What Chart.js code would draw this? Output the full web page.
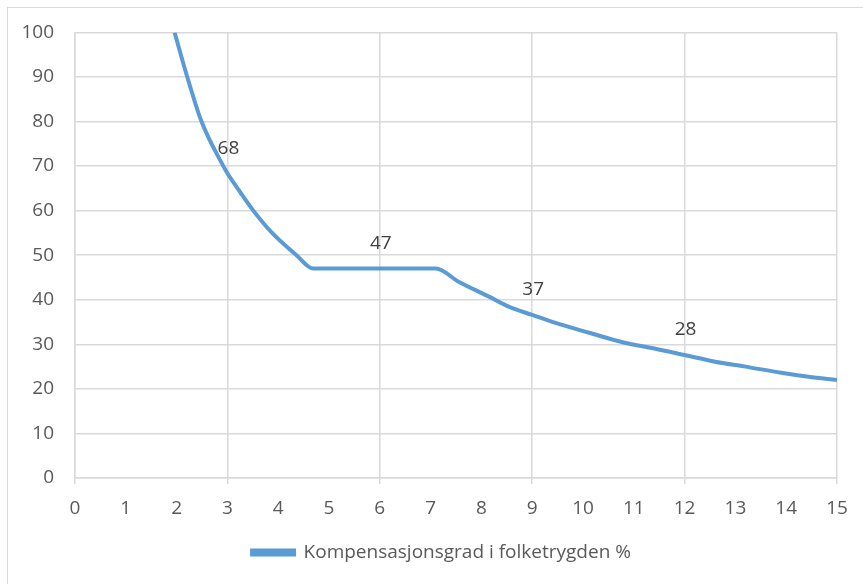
<!DOCTYPE html>
<html>
<head>
<meta charset="utf-8">
<script src="https://cdn.jsdelivr.net/npm/chart.js@4.4.1/dist/chart.umd.min.js"></script>
<style>
  html, body { margin: 0; padding: 0; background: #fff; }
  #wrap { position: relative; width: 863px; height: 584px; overflow: hidden; }
  #frame { position: absolute; left: 7px; top: 7px; width: 900px; height: 620px;
           border: 1.5px solid #d9d9d9; box-sizing: border-box; }
  #myChart { position: absolute; left: 0; top: 0; }
</style>
</head>
<body>
<div id="wrap">
  <div id="frame"></div>
  <canvas id="myChart" width="863" height="584"></canvas>
</div>
<script>
// inntekt (x) and kompensasjonsgrad (y)
const xValues = [1.96, 2.21, 2.49, 2.92, 3, 3.2, 3.51, 3.88, 4.36, 4.69, 6, 7.1, 7.56, 8.15, 8.55, 9, 9.46, 10.12, 10.84, 11.3, 12, 12.6, 13.2, 13.9, 14.44, 15];
const yValues = [100, 90, 80, 70, 68.4, 65, 60, 55, 50, 47, 47, 47, 44, 40.7, 38.4, 36.6, 34.8, 32.6, 30.3, 29.3, 27.6, 26.1, 25, 23.6, 22.7, 22];

// points that carry a data label
const labelX = [3, 6, 9, 12];
const labelText = ["68", "47", "37", "28"];

const seriesName = "Kompensasjonsgrad i folketrygden %";

const points = xValues.map((x, i) => ({ x: x, y: yValues[i] }));

const FONT = "'Open Sans', sans-serif";
const FS = 19;

const pointLabels = {
  id: "pointLabels",
  afterDatasetsDraw(chart) {
    const ctx = chart.ctx;
    const xs = chart.scales.x, ys = chart.scales.y;
    ctx.save();
    ctx.font = FS + "px " + FONT;
    ctx.fillStyle = "#404040";
    ctx.textAlign = "center";
    ctx.textBaseline = "middle";
    labelX.forEach((x, i) => {
      const idx = xValues.indexOf(x);
      const px = xs.getPixelForValue(x);
      const py = ys.getPixelForValue(yValues[idx]);
      ctx.fillText(labelText[i], px + 1, py - 25);
    });
    ctx.restore();
  }
};

// legend sits a bit right of the canvas centre in the original
const legendShift = {
  id: "legendShift",
  afterLayout(chart) { chart.legend.left += 46; }
};

const gridColor = "#d9d9d9";

const config = {
  type: "line",
  data: {
    datasets: [
      {
        label: seriesName,
        data: points,
        borderColor: "#5b9bd5",
        backgroundColor: "#5b9bd5",
        borderWidth: 4,
        pointRadius: 0,
        cubicInterpolationMode: "monotone",
      },
    ],
  },
  options: {
    responsive: false,
    animation: false,
    layout: { padding: { left: 0, right: 26, top: 32, bottom: 12 } },
    plugins: {
      legend: {
        position: "bottom",
        labels: {
          color: "#595959",
          font: { family: FONT, size: FS },
          boxWidth: 42,
          boxHeight: 4,
          padding: 20,
        },
      },
      tooltip: { enabled: false },
    },
    scales: {
      x: {
        type: "linear",
        min: 0,
        max: 15,
        afterFit: (s) => { s.height = 45; },
        ticks: { stepSize: 1, color: "#595959", font: { family: FONT, size: FS }, padding: 13 },
        grid: {
          color: (c) => (c.tick && c.tick.value % 3 === 0 ? gridColor : "rgba(0,0,0,0)"),
          lineWidth: 1.5,
          tickLength: 6,
        },
        border: { color: gridColor, width: 1.5 },
      },
      y: {
        min: 0,
        max: 100,
        afterFit: (s) => { s.width = 75; },
        ticks: { stepSize: 10, color: "#595959", font: { family: FONT, size: FS }, padding: 21 },
        grid: { color: gridColor, lineWidth: 1.5, drawTicks: false },
        border: { color: gridColor, width: 1.5 },
      },
    },
  },
  plugins: [pointLabels, legendShift],
};

const myChart = new Chart(document.getElementById("myChart"), config);
</script>
</body>
</html>
